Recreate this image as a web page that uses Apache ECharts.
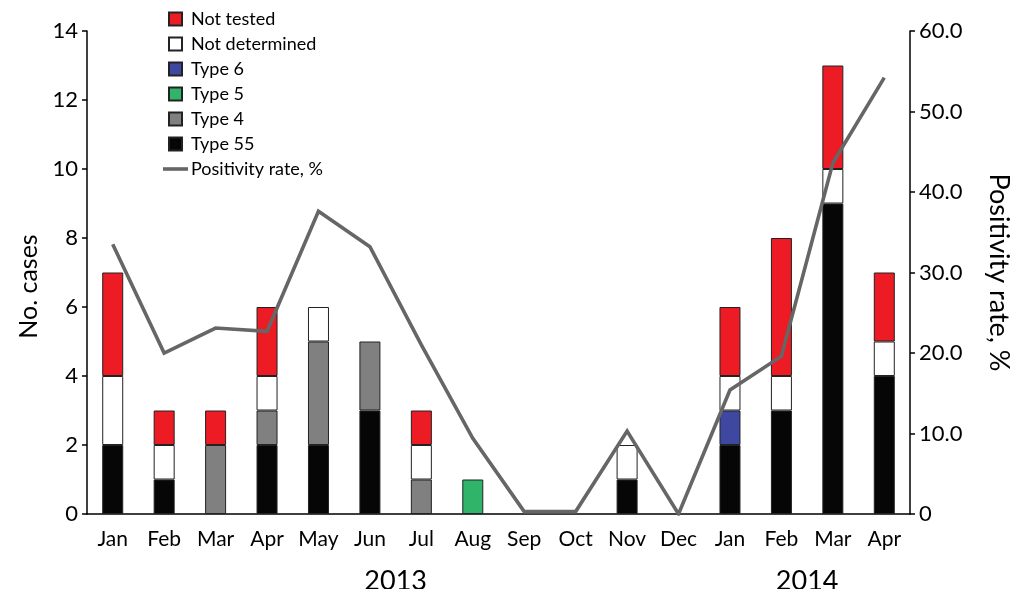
<!DOCTYPE html>
<html>
<head>
<meta charset="utf-8">
<script src="https://cdn.jsdelivr.net/npm/echarts@6/dist/echarts.min.js"></script>
<style>html,body{margin:0;padding:0;background:#fff;}#c{width:1013px;height:589px;}</style>
</head>
<body>
<div id="c"></div>
<script>
const months = ['Jan','Feb','Mar','Apr','May','Jun','Jul','Aug','Sep','Oct','Nov','Dec','Jan','Feb','Mar','Apr'];
const type55 = [2,1,0,2,2,3,0,0,0,0,1,0,2,3,9,4];
const type4 = [0,0,2,1,3,2,1,0,0,0,0,0,0,0,0,0];
const type5 = [0,0,0,0,0,0,0,1,0,0,0,0,0,0,0,0];
const type6 = [0,0,0,0,0,0,0,0,0,0,0,0,1,0,0,0];
const notDetermined = [2,1,0,1,1,0,1,0,0,0,1,0,1,1,1,1];
const notTested = [3,1,1,2,0,0,1,0,0,0,0,0,2,4,3,2];
const positivity = [33.5,20.0,23.1,22.7,37.6,33.2,21.0,9.4,0.3,0.3,10.3,0,15.4,19.6,43.6,54.2];
const years = ['2013','2014'];
const yearCenters = [6, 14];

const FONT = 'Lato';
const sq = 'path://M0,0L10,0L10,10L0,10Z';
const ln = 'path://M0,0L25,0L25,3.6L0,3.6Z';
const nz = a => a.map(v => v === 0 ? '-' : v);

function bar(name, data, color) {
  return {
    name, type: 'bar', stack: 'cases', data: nz(data), barWidth: 21,
    itemStyle: { color, borderColor: '#222', borderWidth: 1 }
  };
}

const chart = echarts.init(document.getElementById('c'));
chart.setOption({
  animation: false,
  textStyle: { fontFamily: FONT },
  grid: { left: 87, right: 103, top: 31, bottom: 75, containLabel: false, outerBoundsMode: 'none' },
  legend: {
    orient: 'vertical', left: 158, top: 5, itemWidth: 25, itemHeight: 13, itemGap: 7,
    symbolKeepAspect: true,
    textStyle: { fontFamily: FONT, fontSize: 18, color: '#000', lineHeight: 18, padding: [0,0,0,-2] },
    data: [
      { name: 'Not tested', icon: sq },
      { name: 'Not determined', icon: sq },
      { name: 'Type 6', icon: sq },
      { name: 'Type 5', icon: sq },
      { name: 'Type 4', icon: sq },
      { name: 'Type 55', icon: sq },
      { name: 'Positivity rate, %', icon: ln }
    ]
  },
  xAxis: [
    {
      type: 'category', data: months, boundaryGap: true,
      axisLine: { lineStyle: { color: '#000', width: 1.5 } },
      axisTick: { show: false },
      axisLabel: { color: '#000', fontSize: 21, margin: 15, interval: 0, fontFamily: FONT }
    },
    {
      type: 'value', min: 0, max: 16, interval: 2, position: 'bottom', offset: 46,
      axisLine: { show: false }, axisTick: { show: false }, splitLine: { show: false },
      axisLabel: {
        color: '#000', fontSize: 27, fontFamily: FONT, showMinLabel: true, showMaxLabel: true,
        formatter: v => { const i = yearCenters.indexOf(v); return i >= 0 ? years[i] : ''; }
      }
    }
  ],
  yAxis: [
    {
      type: 'value', min: 0, max: 14, interval: 2,
      name: 'No. cases', nameLocation: 'middle', nameGap: 46, nameRotate: 90,
      nameTextStyle: { color: '#000', fontSize: 25, fontFamily: FONT, padding: [0, 28, 0, 0] },
      axisLine: { show: true, lineStyle: { color: '#000', width: 1.5 } },
      axisTick: { show: true, length: 5, lineStyle: { color: '#000', width: 1.5 } },
      axisLabel: { color: '#000', fontSize: 22, margin: 9, fontFamily: FONT },
      splitLine: { show: false }
    },
    {
      type: 'value', min: 0, max: 60, interval: 10, position: 'right',
      name: 'Positivity rate, %', nameLocation: 'middle', nameGap: 75, nameRotate: -90,
      nameTextStyle: { color: '#000', fontSize: 27, fontFamily: FONT },
      axisLine: { show: true, lineStyle: { color: '#000', width: 1.5 } },
      axisTick: { show: true, length: 5, lineStyle: { color: '#000', width: 1.5 } },
      axisLabel: { color: '#000', fontSize: 22, margin: 9, fontFamily: FONT,
        formatter: v => v === 0 ? '0' : v.toFixed(1) },
      splitLine: { show: false }
    }
  ],
  series: [
    bar('Type 55', type55, '#060606'),
    bar('Type 4', type4, '#808080'),
    bar('Type 5', type5, '#2fb46a'),
    bar('Type 6', type6, '#3f48a0'),
    bar('Not determined', notDetermined, '#ffffff'),
    bar('Not tested', notTested, '#ed1c24'),
    {
      name: 'Positivity rate, %', type: 'line', yAxisIndex: 1, data: positivity,
      symbol: 'none', z: 5,
      lineStyle: { color: '#666666', width: 3.6, join: 'miter' },
      itemStyle: { color: '#666666' }
    }
  ]
});
</script>
</body>
</html>
